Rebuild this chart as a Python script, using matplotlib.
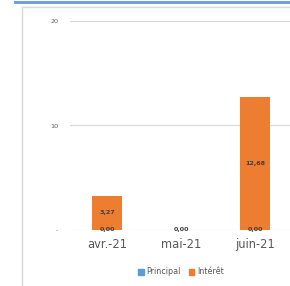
import numpy as np
import matplotlib.pyplot as plt
from matplotlib.lines import Line2D
from matplotlib.patches import Rectangle

months = ["avr.-21", "mai-21", "juin-21"]
principal = [0.00, 0.00, 0.00]
interet = [3.27, 0.00, 12.68]
yticks = [0, 10, 20]
ytick_labels = ["-", "10", "20"]

c_princ = "#5B9BD5"
c_int = "#ED7D31"
txt = "#595959"

fig = plt.figure(figsize=(2.9, 2.86), dpi=100, facecolor="w")

# container frame
fig.add_artist(Line2D([15/290, 1], [1 - 1.5/286, 1 - 1.5/286], color="#6A9AD8", lw=2))
fig.add_artist(Line2D([22/290, 1], [1 - 6.5/286, 1 - 6.5/286], color="#D9D9D9", lw=1))
fig.add_artist(Line2D([22/290, 22/290], [0, 1 - 6.5/286], color="#D9D9D9", lw=1))

ax = fig.add_axes([70/290, 56/286, 222/290, 209/286])
x = np.arange(len(months))
w = 0.405
ax.bar(x, principal, w, color=c_princ, label="Principal", zorder=3)
ax.bar(x, interet, w, bottom=principal, color=c_int, label="Intérêt", zorder=3)

fmt = lambda v: f"{v:.2f}".replace(".", ",")
for i in range(len(months)):
    ax.text(x[i], principal[i] / 2, fmt(principal[i]), ha="center", va="center",
            fontsize=4.6, fontweight="bold", color="#404040", zorder=5)
    if interet[i] > 0:
        ax.text(x[i], principal[i] + interet[i] / 2, fmt(interet[i]), ha="center", va="center",
                fontsize=4.6, fontweight="bold", color="#404040", zorder=5)

ax.set_xlim(-0.5, 2.5)
ax.set_ylim(0, 20)
ax.set_yticks(yticks)
ax.set_yticklabels(ytick_labels)
ax.set_xticks(x)
ax.set_xticklabels(months)
ax.tick_params(axis="y", length=0, labelsize=4.6, labelcolor=txt, pad=8.5)
ax.tick_params(axis="x", length=0, labelsize=8.3, labelcolor=txt, pad=6)
for s in ax.spines.values():
    s.set_visible(False)
ax.grid(axis="y", color="#D9D9D9", lw=0.8, zorder=0)

fig.legend(handles=[Rectangle((0, 0), 1, 1, color=c_princ), Rectangle((0, 0), 1, 1, color=c_int)],
           labels=["Principal", "Intérêt"], loc="center", bbox_to_anchor=(181/290, 1 - 272/286),
           ncol=2, frameon=False, fontsize=5.8, handlelength=0.7, handleheight=0.7,
           handletextpad=0.3, columnspacing=1.0, labelcolor=txt)

fig.savefig("out.png", dpi=100)
